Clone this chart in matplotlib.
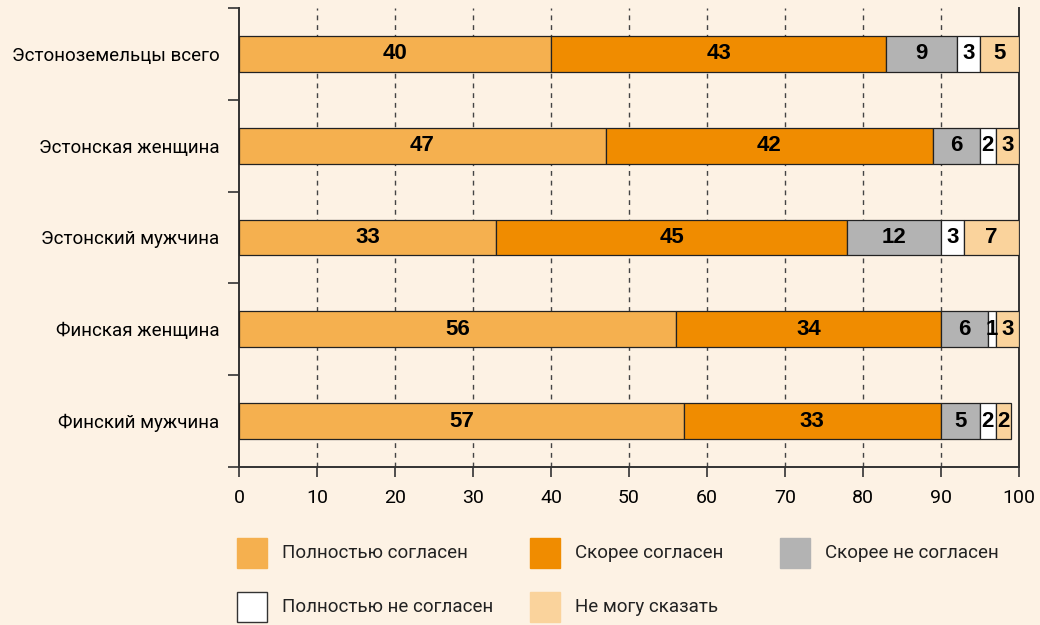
"""Stacked horizontal bars: attitude shares by group (percent)."""

import matplotlib.pyplot as plt
from matplotlib.patches import Rectangle

groups = [
    "Эстоноземельцы всего",
    "Эстонская женщина",
    "Эстонский мужчина",
    "Финская женщина",
    "Финский мужчина",
]
series = [
    "Полностью согласен",
    "Скорее согласен",
    "Скорее не согласен",
    "Полностью не согласен",
    "Не могу сказать",
]
fully_agree = [40, 47, 33, 56, 57]
rather_agree = [43, 42, 45, 34, 33]
rather_disagree = [9, 6, 12, 6, 5]
fully_disagree = [3, 2, 3, 1, 2]
cant_say = [5, 3, 7, 3, 2]
x_ticks = [0, 10, 20, 30, 40, 50, 60, 70, 80, 90, 100]

colors = ["#F5B04F", "#F08C00", "#B3B3B3", "#FFFFFF", "#FAD39C"]
bg = "#FDF2E4"
ink = "#222222"

plt.rcParams["font.family"] = ["Roboto", "DejaVu Sans"]

fig = plt.figure(figsize=(10.4, 6.25), dpi=100, facecolor=bg)
ax = fig.add_axes([239 / 1040, 1 - 467 / 625, 780 / 1040, 459 / 625])
ax.set_facecolor(bg)

values = [fully_agree, rather_agree, rather_disagree, fully_disagree, cant_say]
ypos = list(range(len(groups)))
left = [0] * len(groups)
for vals, color in zip(values, colors):
    bars = ax.barh(ypos, vals, left=left, height=0.39, color=color,
                   edgecolor=ink, linewidth=0.9, zorder=3)
    for bar, v in zip(bars, vals):
        ax.text(bar.get_x() + bar.get_width() / 2, bar.get_y() + bar.get_height() / 2,
                str(v), ha="center", va="center", fontsize=16, fontweight="bold",
                family=["Liberation Sans", "DejaVu Sans"], color="black", zorder=4)
    left = [l + v for l, v in zip(left, vals)]

ax.set_xlim(0, 100)
ax.set_ylim(len(groups) - 0.5, -0.5)

ax.set_xticks(x_ticks)
ax.set_xticklabels([str(t) for t in x_ticks], fontsize=14)
ax.tick_params(axis="x", length=7, width=1.2, color="#333333", pad=9)

ax.set_yticks(ypos)
ax.set_yticklabels(groups, fontsize=13.5)
ax.tick_params(axis="y", which="major", length=0, pad=14)
ax.set_yticks([y - 0.5 for y in ypos] + [len(groups) - 0.5], minor=True)
ax.tick_params(axis="y", which="minor", length=8, width=1.2, color="#333333")

for t in x_ticks[1:-1]:
    ax.axvline(t, color="#444444", linewidth=1.0, linestyle=(0, (3.5, 3.5)), zorder=1)

ax.spines["top"].set_visible(False)
for side in ("left", "right", "bottom"):
    ax.spines[side].set_color("#333333")
    ax.spines[side].set_linewidth(1.4)

# legend laid out in a 3-column grid below the plot
col_x = [237, 530, 780]
row_y = [553, 607]
for i, (name, color) in enumerate(zip(series, colors)):
    cx = col_x[i % 3]
    cy = row_y[i // 3]
    edge = "#333333" if color == "#FFFFFF" else color
    fig.add_artist(Rectangle((cx / 1040, 1 - (cy + 15) / 625), 30 / 1040, 30 / 625,
                             transform=fig.transFigure, facecolor=color,
                             edgecolor=edge, linewidth=1.0))
    fig.text((cx + 45) / 1040, 1 - cy / 625, name, ha="left", va="center",
             fontsize=13.5, color=ink)

fig.savefig("out.png", dpi=100, facecolor=bg)
